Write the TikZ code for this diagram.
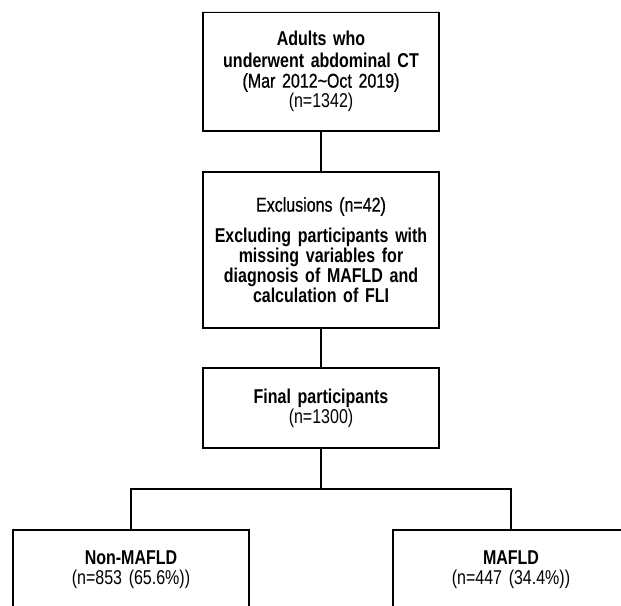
\documentclass[tikz,border=0pt]{standalone}
\usepackage{fontspec}
\setmainfont[FakeStretch=0.8]{Liberation Sans}
\newfontfamily\medfont[FakeStretch=0.8,FakeBold=0.7]{Liberation Sans}
\usepackage{tikz}
\usetikzlibrary{positioning}

\begin{document}
\begin{tikzpicture}[x=1pt,y=-1pt,
		box/.style={rectangle,draw,line width=1.5pt,minimum width=236pt,text width=226pt,align=center,inner sep=0pt,
			font=\fontsize{20}{20}\selectfont},
		link/.style={line width=1.5pt}
		]
		\clip (0,0) rectangle (621,605);
		\useasboundingbox (0,0) rectangle (621,605);
		\node (adults) [box,minimum height=119pt] at (321,71.5)
			{\textbf{Adults who}\\[2pt] \textbf{underwent abdominal CT}\\ {\medfont (Mar 2012\textasciitilde Oct 2019)}\\ (n=1342)};
		\node (excl) [box,minimum height=156pt] at (321,250)
			{{\medfont Exclusions (n=42)}\\[11pt] \textbf{Excluding participants with}\\ \textbf{missing variables for}\\ \textbf{diagnosis of MAFLD and}\\ \textbf{calculation of FLI}};
		\node (final) [box,minimum height=80pt] at (321,408)
			{\textbf{Final participants}\\ (n=1300)};
		\node (non) [box,minimum height=80pt] at (131,570)
			{\textbf{Non-MAFLD}\\ (n=853 (65.6\%))};
		\node (mafld) [box,minimum height=80pt] at (511,570)
			{\textbf{MAFLD}\\ (n=447 (34.4\%))};
		% faint top edge of the first box
		\draw[gray!20,line width=1.5pt] (adults.north west) -- (adults.north east);
		\coordinate (split) at (321,489);
		\draw[link] (adults) -- (excl);
		\draw[link] (excl) -- (final);
		\draw[link] (final) -- (split);
		\draw[link] (split) -| (non);
		\draw[link] (split) -| (mafld);
\end{tikzpicture}
\end{document}
